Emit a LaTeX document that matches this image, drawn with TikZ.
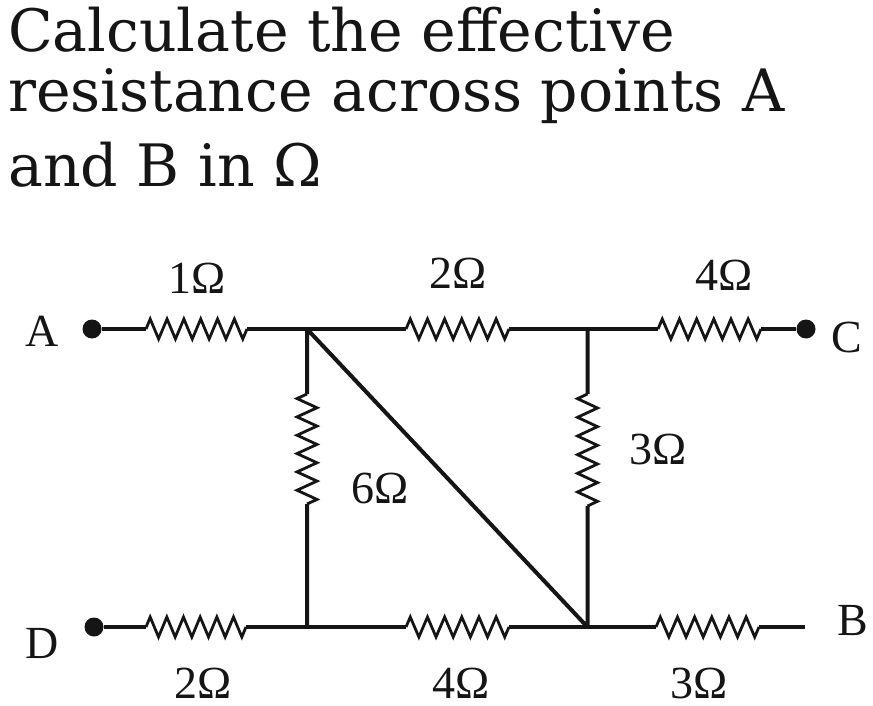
\documentclass[tikz,border=0pt]{standalone}
\usepackage{fontspec}
\setmainfont{Liberation Serif}
\newfontfamily\headfont{DejaVu Serif}
\usetikzlibrary{calc}
\definecolor{ink}{HTML}{151515}
\tikzset{
  wire/.style={draw=ink,line width=4.6pt},
  thinwire/.style={draw=ink,line width=4pt},
  res/.style={draw=ink,line width=2.8pt,line join=miter},
  term/.style={circle,fill=ink,inner sep=0pt,minimum size=19pt},
  lab/.style={font=\fontsize{46}{46}\selectfont,text=ink,inner sep=0pt},
  head/.style={font=\headfont\fontsize{58.5}{58.5}\selectfont,text=ink,inner sep=0pt,anchor=base west},
}
\begin{document}
\begin{tikzpicture}[x=1pt,y=-1pt]
\useasboundingbox (0,0) rectangle (873,706);
\node[head] (h1) at (8,52) {Calculate the effective};
\node[head] (h2) at (8,112) {resistance across points A};
\node[head] (h3) at (8,186) {and B in Ω};
% junctions and ends
\node[term] (A) at (92,329) {};
\node[term] (C) at (806,329) {};
\node[term] (D) at (94,627) {};
\coordinate (Bend) at (805,627);
\coordinate (J1) at (307,329);
\coordinate (J2) at (587.5,329);
\coordinate (J3) at (307,627);
\coordinate (J4) at (587.5,627);
% resistor ends
\coordinate (r1a) at (146,329); \coordinate (r1b) at (247,329);
\coordinate (r2a) at (406,329); \coordinate (r2b) at (509,329);
\coordinate (r3a) at (658,329); \coordinate (r3b) at (761,329);
\coordinate (r4a) at (146,627); \coordinate (r4b) at (246,627);
\coordinate (r5a) at (406,627); \coordinate (r5b) at (509,627);
\coordinate (r6a) at (656,627); \coordinate (r6b) at (759,627);
\coordinate (v1a) at (307,394); \coordinate (v1b) at (307,504);
\coordinate (v2a) at (587.5,394); \coordinate (v2b) at (587.5,506);
% wires
\draw[wire] (A) -- (r1a) (r1b) -- (J1) -- (r2a) (r2b) -- (J2) -- (r3a) (r3b) -- (C);
\draw[wire] (D) -- (r4a) (r4b) -- (J3) -- (r5a) (r5b) -- (J4) -- (r6a) (r6b) -- (Bend);
\draw[thinwire] (J1) -- (v1a) (v1b) -- (J3) (J2) -- (v2a) (v2b) -- (J4) (J1) -- (J4);
% resistors: six zigzag periods
\foreach \a/\b/\s in {r1a/r1b/1,r2a/r2b/1,r3a/r3b/1,r4a/r4b/1,r5a/r5b/1,r6a/r6b/1,v1a/v1b/-1,v2a/v2b/-1}
  \draw[res] (\a)
    \foreach \k in {0,...,11} {
      -- ($(\a)!{(\k+0.5)/12}!(\b)!{\s*(1-2*mod(\k,2))*10pt}!90:(\b)$)
    } -- (\b);
% labels
\node[lab] (lA) at (42,331) {A};
\node[lab] (lC) at (847,337) {C};
\node[lab] (lD) at (42,643) {D};
\node[lab] (lB) at (853,621) {B};
\node[lab] (l1) at (197,278) {1Ω};
\node[lab] (l2) at (458,273) {2Ω};
\node[lab] (l3) at (724,275) {4Ω};
\node[lab] (l4) at (380,488) {6Ω};
\node[lab] (l5) at (658,449) {3Ω};
\node[lab] (l6) at (203,683) {2Ω};
\node[lab] (l7) at (461,683) {4Ω};
\node[lab] (l8) at (699,683) {3Ω};
\end{tikzpicture}
\end{document}
